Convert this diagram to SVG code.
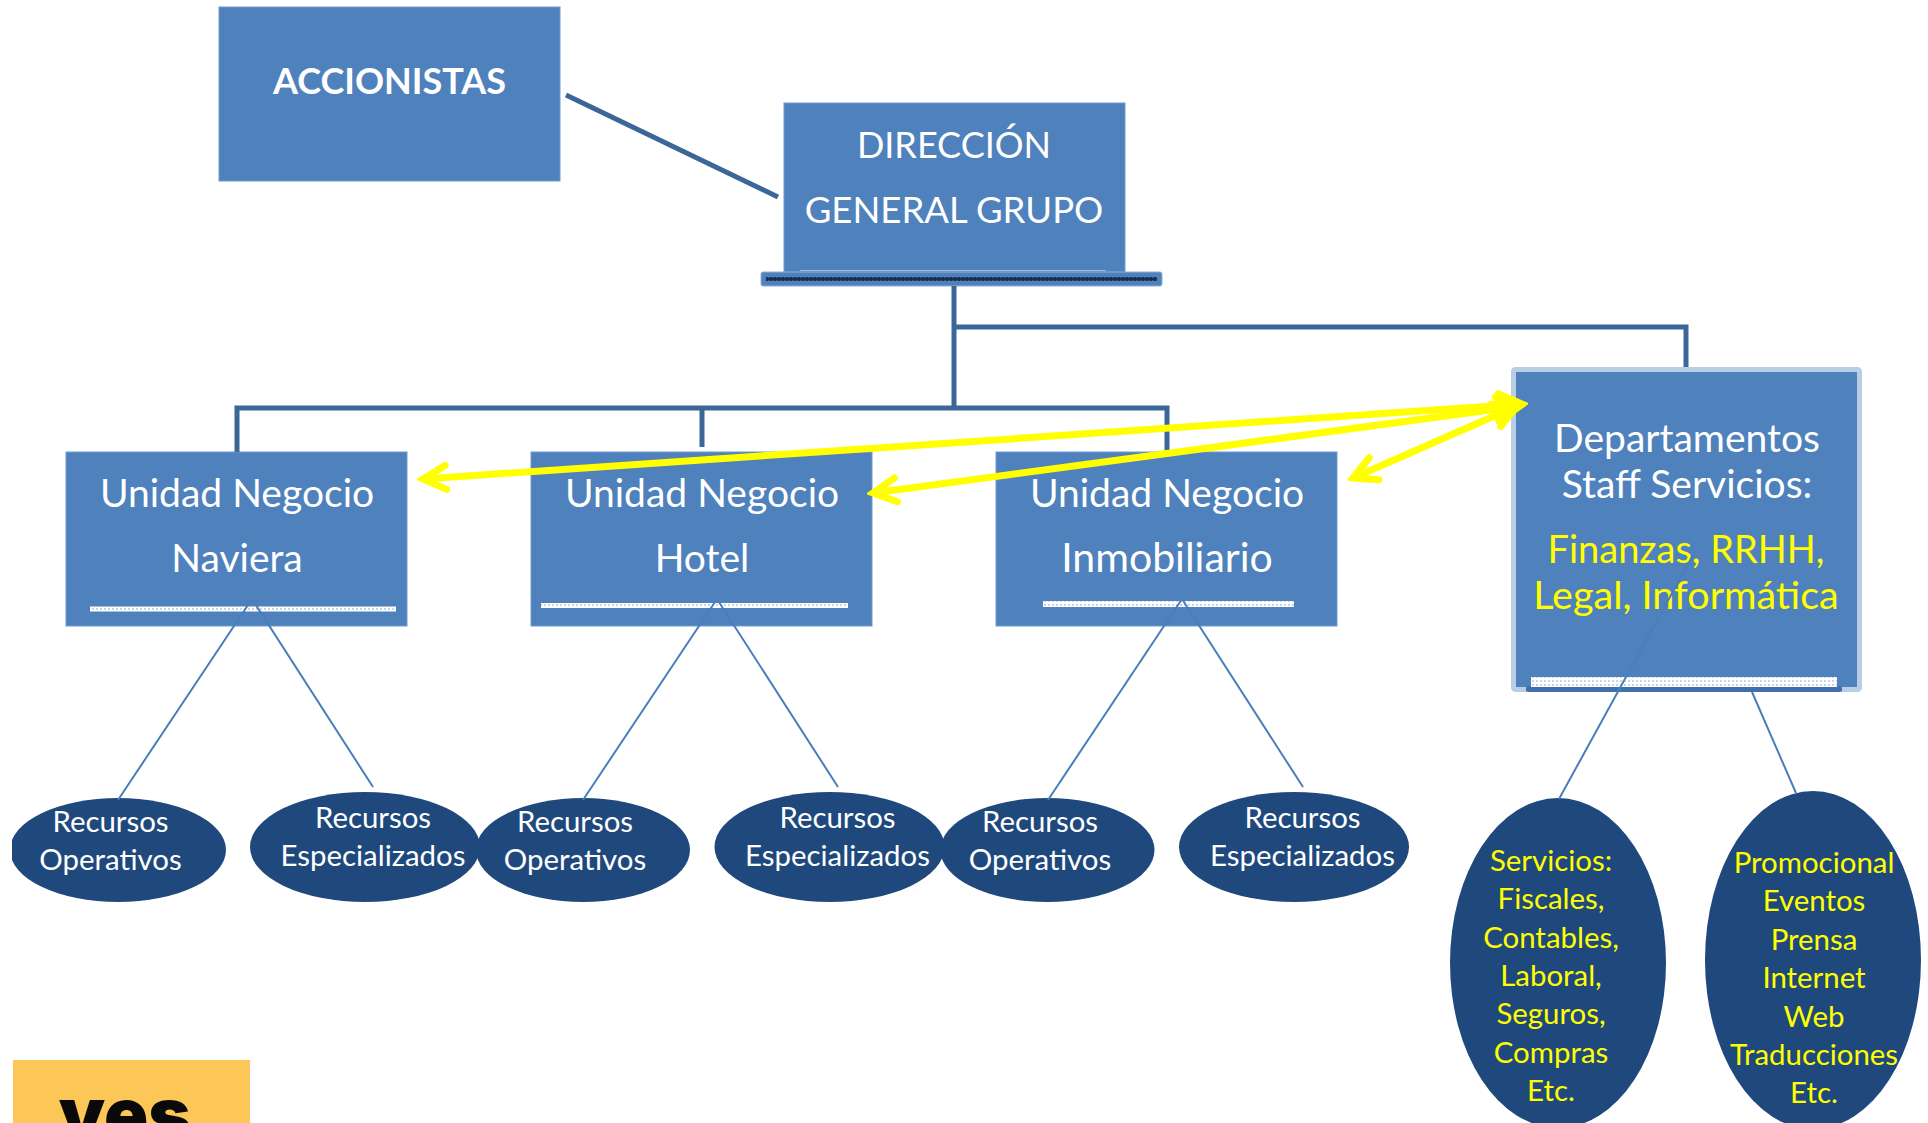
<svg xmlns="http://www.w3.org/2000/svg" width="1928" height="1123" viewBox="0 0 1928 1123">
<style>
text{font-family:"Lato","Carlito","Liberation Sans",sans-serif;text-anchor:middle;fill:#fff}
.box{fill:#4f81bd;stroke:#6f9bcf;stroke-width:1}
.h{font-size:36.500px}
.m{font-size:39px}
.s{font-size:29.400px}
.y{fill:#ffff00}
.el{fill:#1f497d}
.thick{fill:none;stroke:#3b6698;stroke-width:5}
.thin{fill:none;stroke:#4a7ebb;stroke-width:2}
.arr{fill:none;stroke:#ffff00;stroke-width:7;marker-start:url(#ah);marker-end:url(#ah)}
</style>
<defs>
<pattern id="dots" width="4" height="4" patternUnits="userSpaceOnUse"><rect width="4" height="4" fill="#fff"/><rect x="0" y="0" width="2" height="2" fill="#c9d6e8"/></pattern>
<pattern id="darkdots" width="4" height="4" patternUnits="userSpaceOnUse"><rect width="4" height="4" fill="#1a2f4f"/><rect x="0" y="0" width="2" height="2" fill="#3a5580"/></pattern>
<marker id="ah" viewBox="-28 -16 34 32" refX="0" refY="0" markerUnits="userSpaceOnUse" markerWidth="34" markerHeight="32" orient="auto-start-reverse"><path d="M-23-12 0 0-23 12" fill="none" stroke="#ffff00" stroke-width="7" stroke-linecap="round" stroke-linejoin="miter"/></marker>
<clipPath id="leftclip"><rect x="12" y="780" width="240" height="140"/></clipPath>
</defs>
<rect width="1928" height="1123" fill="#fff"/>

<g id="logo"><rect x="13" y="1060" width="237" height="63" fill="#fdc757"/><text x="125" y="1140" style="font-family:Inter,'Liberation Sans',sans-serif;font-weight:900;font-size:73px;fill:#0a0a0a">yes</text></g>

<g id="accionistas"><rect class="box" x="219" y="7" width="341" height="174"/><text x="389.500" y="94" style="font-size:36px;font-weight:700">ACCIONISTAS</text></g>

<g id="direccion"><rect class="box" x="784" y="103" width="341" height="170"/><rect x="800" y="270" width="306" height="1" fill="#9db9dc"/><rect x="761" y="272" width="401" height="14" rx="2" fill="#4f81bd" stroke="#8fb0d8" stroke-width="1"/><rect x="766" y="277" width="391" height="4" fill="url(#darkdots)"/><text class="h" x="954" y="158" style="font-size:36px">DIRECCIÓN</text><text class="h" x="954" y="223">GENERAL GRUPO</text></g>

<g id="naviera"><rect class="box" x="66" y="452" width="341" height="174"/><rect x="90" y="606.500" width="306" height="5" fill="url(#dots)"/><text class="m" x="237" y="507">Unidad Negocio</text><text class="m" x="237" y="572">Naviera</text></g>
<g id="hotel"><rect class="box" x="531" y="452" width="341" height="174"/><rect x="541" y="603" width="307" height="5" fill="url(#dots)"/><text class="m" x="702" y="507">Unidad Negocio</text><text class="m" x="702" y="572">Hotel</text></g>
<g id="inmobiliario"><rect class="box" x="996" y="452" width="341" height="174"/><rect x="1043" y="601" width="251" height="6" fill="url(#dots)"/><text class="m" x="1167" y="507">Unidad Negocio</text><text class="m" x="1167" y="572" style="font-size:41px">Inmobiliario</text></g>

<g id="staff"><rect x="1513.500" y="369.500" width="346" height="320" rx="2" fill="#4f81bd" stroke="#b9cde5" stroke-width="5"/><rect x="1526" y="686" width="316" height="6" rx="2" fill="#3f70ad"/><rect x="1531" y="677" width="306" height="10" fill="url(#dots)"/><text class="m" x="1687" y="451.500">Departamentos</text><text class="m" x="1687" y="497.500">Staff Servicios:</text><text class="m y" x="1686" y="563" style="font-size:38px">Finanzas, RRHH,</text><text class="m y" x="1686" y="609" style="font-size:39.500px">Legal, Informática</text></g>

<g id="op1"><ellipse class="el" cx="118" cy="850" rx="108" ry="52" clip-path="url(#leftclip)"/><text class="s" x="110.500" y="832">Recursos</text><text class="s" x="110.500" y="870">Operativos</text></g>
<g id="esp1"><ellipse class="el" cx="365" cy="847" rx="115" ry="55"/><text class="s" x="373" y="828">Recursos</text><text class="s" x="373" y="866">Especializados</text></g>
<g id="op2"><ellipse class="el" cx="583" cy="850" rx="107" ry="52"/><text class="s" x="575" y="832">Recursos</text><text class="s" x="575" y="870">Operativos</text></g>
<g id="esp2"><ellipse class="el" cx="829.500" cy="847" rx="115" ry="55"/><text class="s" x="837.500" y="828">Recursos</text><text class="s" x="837.500" y="866">Especializados</text></g>
<g id="op3"><ellipse class="el" cx="1047.500" cy="850" rx="107" ry="52"/><text class="s" x="1040" y="832">Recursos</text><text class="s" x="1040" y="870">Operativos</text></g>
<g id="esp3"><ellipse class="el" cx="1294" cy="847" rx="115" ry="55"/><text class="s" x="1302.500" y="828">Recursos</text><text class="s" x="1302.500" y="866">Especializados</text></g>

<g id="servicios"><ellipse class="el" cx="1558" cy="963" rx="108" ry="165"/><text class="s y" x="1551" y="870.500">Servicios:</text><text class="s y" x="1551" y="909">Fiscales,</text><text class="s y" x="1551" y="947.500">Contables,</text><text class="s y" x="1551" y="985.500">Laboral,</text><text class="s y" x="1551" y="1024">Seguros,</text><text class="s y" x="1551" y="1062.500">Compras</text><text class="s y" x="1551" y="1101">Etc.</text></g>
<g id="promocional"><ellipse class="el" cx="1813" cy="960" rx="108" ry="169"/><text class="s y" x="1814" y="872.500">Promocional</text><text class="s y" x="1814" y="911">Eventos</text><text class="s y" x="1814" y="949.500">Prensa</text><text class="s y" x="1814" y="988">Internet</text><text class="s y" x="1814" y="1026.500">Web</text><text class="s y" x="1814" y="1065">Traducciones</text><text class="s y" x="1814" y="1103">Etc.</text></g>

<g id="connectors">
<path class="thick" d="M566 95 778 197"/>
<path class="thick" d="M954 286V408M954 327H1686V367M237 452V408H1167V452M702 408V447"/>
<path class="thin" d="M252 599 118 800M252 599 373 787M717 599 583 800M717 599 838 787M1182 599 1048 800M1182 599 1303 787M1693 555 1559 799M1752 692 1796 793"/>
<path class="arr" d="M423 479 1522 404"/>
<path class="arr" d="M873 493 1520 406"/>
<path class="arr" d="M1353 478 1517 406"/>
</g>
</svg>
